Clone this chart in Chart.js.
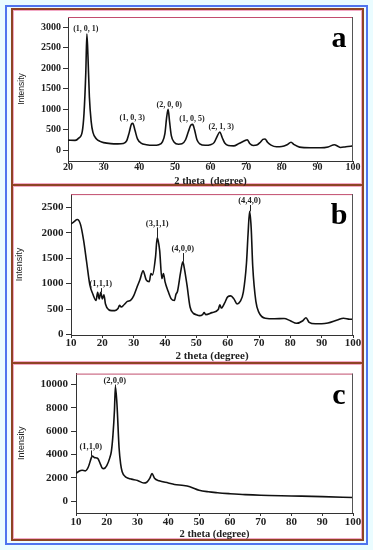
<!DOCTYPE html>
<html>
<head>
<meta charset="utf-8">
<script src="https://cdn.jsdelivr.net/npm/chart.js@4.4.0/dist/chart.umd.min.js"></script>
<style>
  body { margin:0; width:373px; height:550px; position:relative; overflow:hidden; background:#eafcff; }
  #frame { position:absolute; left:5px; top:5px; width:363px; height:540px; box-sizing:border-box; border:2px solid #4f74ee; background:#eefcff; }
  .panel { position:absolute; left:11px; width:353px; box-sizing:border-box; border:2px solid #8e4424; box-shadow:inset 0 0 0 1px #f3a9c6; background:#fff; }
  canvas { position:absolute; left:12px; }
</style>
</head>
<body>
<div id="frame"></div>
<div class="panel" style="top:8px;height:178px"></div>
<div class="panel" style="top:184px;height:180px"></div>
<div class="panel" style="top:362px;height:179px"></div>
<canvas id="chartA" width="351" height="178" style="top:9px"></canvas>
<canvas id="chartB" width="351" height="180" style="top:185px"></canvas>
<canvas id="chartC" width="351" height="180" style="top:364px"></canvas>
<script>
// panel a
const thetaA = [20,22,23,24,24.5,25,25.3,25.6,26,26.5,27,28,29,30,32,34,35.5,36.5,37.2,37.8,
  38.2,38.8,39.5,40.5,42,44,45.5,46.5,47.2,47.7,48.1,48.5,49,49.8,51,52,53,53.8,54.5,55,
  55.5,56.2,57,58.5,60,61,61.8,62.6,63.3,64,65,66.5,68,69,69.7,70.3,71,72,73,74,
  74.7,75.3,76,77,78.5,80,81.5,82.6,83.5,85,88,91,93,94.8,95.6,96.5,98,100];
const intensityA = [240,235,290,450,900,1900,2830,2300,1300,700,430,270,210,180,155,150,160,230,430,630,
  650,480,270,170,130,115,130,200,400,800,990,700,350,190,140,150,250,450,610,625,
  500,250,150,115,130,180,320,440,300,170,110,100,160,200,230,250,160,110,120,190,
  260,270,190,120,80,85,130,190,130,70,55,55,75,130,100,60,80,100];
const peaksA = ['(1, 0, 1)', '(1, 0, 3)', '(2, 0, 0)', '(1, 0, 5)', '(2, 1, 3)'];
const peakXA = [25, 38, 48.4, 54.8, 63];
const peakYA = [2950, 780, 1100, 770, 560];
const xTicksA = [20, 30, 40, 50, 60, 70, 80, 90, 100];
const yTicksA = [0, 500, 1000, 1500, 2000, 2500, 3000];

// panel b
const thetaB = [10,11,12,13,14,15,16,17,18,18.5,19,19.5,20,20.5,21,22,23,24,25,25.5,
  26,27,28,29,30,31,32,33,34,35,35.5,36,37,37.5,37.8,38.3,39,39.5,40,41,
  42,43,43.5,44,45,45.7,46,47,48,49,50,51,52,52.5,53,55,57,57.5,58,59,
  60,61,62,63,64,65,66,66.5,67,67.5,68,69,70,72,75,78,80,82,84,85,
  86,88,90,92,95,97,99,100];
const intensityB = [2170,2220,2260,2170,1860,1420,980,790,670,830,700,830,700,780,600,490,470,470,510,575,
  540,590,650,670,760,920,1075,1250,1075,1040,1200,1170,1540,1900,1850,1650,1100,1200,1040,850,
  700,670,790,850,1230,1430,1360,980,540,420,390,370,390,430,390,430,490,585,520,615,
  740,760,700,600,650,835,1400,1965,2420,2100,1340,650,430,320,310,315,270,220,270,330,
  240,210,210,225,285,320,300,300];
const peaksB = ['(1,1,1)', '(3,1,1)', '(4,0,0)', '(4,4,0)'];
const peakXB = [19.5, 37.5, 45.7, 67];
const peakYB = [990, 2185, 1680, 2625];
const peakTipB = [830, 1900, 1430, 2420];
const xTicksB = [10, 20, 30, 40, 50, 60, 70, 80, 90, 100];
const yTicksB = [0, 500, 1000, 1500, 2000, 2500];

// panel c
const thetaC = [10,11,12,13,14,15,15.3,16,17,18,18.5,19,20,21,21.5,22,22.5,22.8,23.3,24,
  24.5,25,26,27,28,30,32,33,34,34.7,35.5,37,40,42,45,47,50,53,56,60,
  65,70,80,90,100];
const intensityC = [2370,2560,2640,2590,2920,3730,3870,3730,3680,3130,2830,2780,3050,3730,4280,5640,7820,9860,8360,4550,
  3190,2510,2100,1960,1880,1770,1550,1610,1960,2370,1960,1740,1550,1420,1340,1230,930,790,710,630,
  545,490,435,380,300];
const peaksC = ['(1,1,0)', '(2,0,0)'];
const peakXC = [14.8, 22.6];
const peakYC = [4690, 10350];
const peakTipC = [3870, 9860];
const xTicksC = [10, 20, 30, 40, 50, 60, 70, 80, 90, 100];
const yTicksC = [0, 2000, 4000, 6000, 8000, 10000];

const serif = '"Liberation Serif", "DejaVu Serif", serif';

// labels, leader lines, frame and panel letter
const peakPlugin = {
  id: 'peaks',
  afterDatasetsDraw(chart, args, opts) {
    const {ctx, chartArea} = chart;
    const xs = chart.scales.x, ys = chart.scales.y;
    ctx.save();
    ctx.fillStyle = '#222';
    ctx.strokeStyle = '#222';
    ctx.lineWidth = 1;
    ctx.font = 'bold ' + opts.size + 'px ' + serif;
    ctx.textAlign = 'center';
    ctx.textBaseline = 'middle';
    opts.names.forEach((name, i) => {
      const px = xs.getPixelForValue(opts.x[i]);
      const py = ys.getPixelForValue(opts.y[i]);
      ctx.fillText(name, px, py);
      if (opts.tip) {
        ctx.beginPath();
        ctx.moveTo(Math.round(px) + 0.5, py + 4);
        ctx.lineTo(Math.round(px) + 0.5, ys.getPixelForValue(opts.tip[i]));
        ctx.stroke();
      }
    });
    ctx.strokeStyle = '#c24d6e';
    ctx.beginPath();
    ctx.moveTo(chartArea.left, chartArea.top + 0.5);
    ctx.lineTo(chartArea.right, chartArea.top + 0.5);
    ctx.stroke();
    ctx.strokeStyle = '#555';
    ctx.beginPath();
    ctx.moveTo(chartArea.right - 0.5, chartArea.top);
    ctx.lineTo(chartArea.right - 0.5, chartArea.bottom);
    ctx.stroke();
    ctx.fillStyle = '#000';
    ctx.font = 'bold 30px ' + serif;
    ctx.textBaseline = 'alphabetic';
    ctx.fillText(opts.letter, chartArea.right - 14, chartArea.top + 30);
    ctx.restore();
  }
};

function makeChart(id, theta, intensity, cfg) {
  return new Chart(document.getElementById(id), {
    type: 'line',
    data: {
      datasets: [{
        data: theta.map((t, i) => ({x: t, y: intensity[i]})),
        borderColor: '#111',
        borderWidth: 1.6,
        pointRadius: 0,
        cubicInterpolationMode: 'monotone',
        fill: false
      }]
    },
    options: {
      responsive: false,
      animation: false,
      devicePixelRatio: 1,
      layout: {padding: {top: cfg.top, right: 10, left: 0, bottom: 0}},
      plugins: {
        legend: {display: false},
        tooltip: {enabled: false},
        peaks: {names: cfg.names, x: cfg.px, y: cfg.py, tip: cfg.tip, size: cfg.labelSize, letter: cfg.letter}
      },
      scales: {
        x: {
          type: 'linear',
          min: cfg.xTicks[0],
          max: 100,
          afterBuildTicks: s => { s.ticks = cfg.xTicks.map(v => ({value: v})); },
          afterFit: s => { s.height = cfg.xH; },
          grid: {drawOnChartArea: false, tickLength: 3, color: '#333'},
          border: {color: '#333', width: 1},
          ticks: {padding: cfg.xPad, color: '#222', maxRotation: 0, callback: v => String(v),
                  font: {family: serif, weight: 'bold', size: cfg.tickSize, lineHeight: 1}},
          title: {display: true, text: cfg.xTitle, color: '#222',
                  font: {family: serif, weight: 'bold', size: cfg.titleSize, lineHeight: 1},
                  padding: {top: 0, bottom: cfg.xTitlePad}}
        },
        y: {
          min: cfg.yMin,
          max: cfg.yMax,
          afterBuildTicks: s => { s.ticks = cfg.yTicks.map(v => ({value: v})); },
          afterFit: s => { s.width = cfg.yW; },
          grid: {drawOnChartArea: false, tickLength: 5, color: '#333'},
          border: {color: '#333', width: 1},
          ticks: {padding: cfg.yPad, color: '#222', callback: v => String(v),
                  font: {family: serif, weight: 'bold', size: cfg.tickSize}},
          title: {display: true, text: 'Intensity', color: '#222',
                  font: {family: '"Liberation Sans Narrow", "Liberation Sans", sans-serif', size: cfg.ySize, lineHeight: 1.2},
                  padding: {top: cfg.yTitlePad, bottom: 0}}
        }
      }
    },
    plugins: [peakPlugin]
  });
}

makeChart('chartA', thetaA, intensityA, {
  names: peaksA, px: peakXA, py: peakYA, tip: null, letter: 'a', labelSize: 8,
  xTicks: xTicksA, yTicks: yTicksA, yMin: -268, yMax: 3244,
  top: 4, xH: 26, yW: 56, xPad: -2, yPad: 2, tickSize: 10, titleSize: 10.5,
  xTitle: '2 theta  (degree)', xTitlePad: 0, ySize: 8.5, yTitlePad: 4.9
});
makeChart('chartB', thetaB, intensityB, {
  names: peaksB, px: peakXB, py: peakYB, tip: peakTipB, letter: 'b', labelSize: 8.5,
  xTicks: xTicksB, yTicks: yTicksB, yMin: -10, yMax: 2760,
  top: 3, xH: 30, yW: 59, xPad: -0.5, yPad: 2.5, tickSize: 11, titleSize: 11,
  xTitle: '2 theta (degree)', xTitlePad: 3.5, ySize: 9, yTitlePad: 2.6
});
makeChart('chartC', thetaC, intensityC, {
  names: peaksC, px: peakXC, py: peakYC, tip: peakTipC, letter: 'c', labelSize: 8.5,
  xTicks: xTicksC, yTicks: yTicksC, yMin: -1030, yMax: 10950,
  top: 3, xH: 31, yW: 64, xPad: 0.5, yPad: 3, tickSize: 11, titleSize: 10.5,
  xTitle: '2 theta (degree)', xTitlePad: 4.5, ySize: 9, yTitlePad: 4.3
});
</script>
</body>
</html>
